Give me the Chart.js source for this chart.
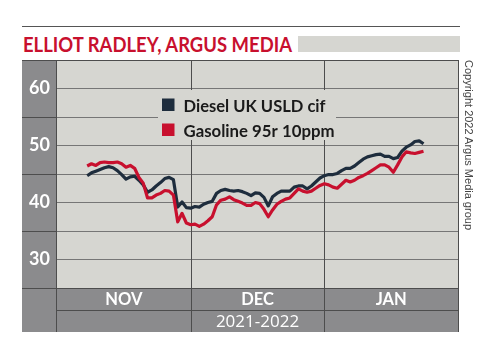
<!DOCTYPE html>
<html><head><meta charset="utf-8">
<script src="https://cdn.jsdelivr.net/npm/chart.js@4"></script>
<style>
html,body{margin:0;padding:0;background:#fff;}
#wrap{position:relative;width:480px;height:353px;overflow:hidden;}
canvas{position:absolute;left:0;top:0;}
#rule{position:absolute;left:22px;top:26px;width:438px;height:1px;background:#555;}
#title{position:absolute;left:23px;top:34px;font:bold 20px Lato;line-height:20px;color:#c8102e;white-space:nowrap;transform-origin:0 0;}
#bar{position:absolute;left:298px;top:36px;width:162px;height:16px;background:#d6d6d1;}
#copy{position:absolute;left:462px;top:60px;writing-mode:vertical-rl;font:11px "Liberation Sans";line-height:13px;color:#444;white-space:nowrap;}
</style></head>
<body><div id="wrap">
<div id="rule"></div>
<div id="title">ELLIOT RADLEY, ARGUS MEDIA</div>
<div id="bar"></div>
<canvas id="c" width="480" height="353"></canvas>
<div id="copy">Copyright 2022 Argus Media group</div>
</div>
<script>
// ---- data ----
const months = ['NOV', 'DEC', 'JAN'];
const monthEdges = [0, 31, 62, 93];          // day-of-period boundaries (1 = 1 Nov)
const periodLabel = '2021-2022';
const yLabels = [30, 40, 50, 60];
const seriesNames = ['Diesel UK USLD cif', 'Gasoline 95r 10ppm'];
const days = [7,8,9,10,11,12,13,14,15,16,17,18,19,20,21,22,23,24,25,26,27,28,29,30,31,32,33,34,35,36,37,38,39,40,41,42,43,44,45,46,47,48,49,50,51,52,53,54,55,56,57,58,59,60,61,62,63,64,65,66,67,68,69,70,71,72,73,74,75,76,77,78,79,80,81,82,83,84,85];
const diesel = [44.7,45.2,45.5,45.8,46.1,46.3,46.1,45.6,44.9,44.1,
  44.5,44.6,43.9,43.1,41.8,42.2,42.9,43.5,44.2,44.4,
  44.0,39.2,40.1,39.1,39.0,39.3,39.2,39.7,40.0,40.2,
  41.6,42.1,42.3,42.1,42.0,42.1,41.9,41.6,41.2,41.7,
  41.6,40.9,39.4,41.0,41.6,42.0,42.0,42.0,42.7,42.9,
  42.9,42.4,42.9,43.6,44.3,44.7,44.9,44.9,45.1,45.6,
  46.0,46.0,46.4,47.0,47.6,48.0,48.2,48.4,48.5,48.1,
  48.1,47.7,47.9,49.0,49.7,50.1,50.7,50.8,50.3];
const gasoline = [46.4,46.8,46.5,47.0,47.1,47.0,47.0,47.1,46.8,46.2,
  46.5,46.0,44.4,43.4,40.8,40.8,41.3,41.6,42.1,42.0,
  41.3,36.6,38.1,36.4,36.1,36.2,35.8,36.2,36.8,37.5,
  39.6,40.4,40.6,41.0,40.5,40.2,39.9,39.5,39.5,40.0,
  39.8,38.8,37.5,38.7,39.7,40.2,40.6,40.8,41.6,42.4,
  42.0,41.8,42.0,42.5,43.0,43.3,43.1,42.7,42.5,43.2,
  43.9,43.6,43.9,44.4,44.7,45.1,45.6,46.1,46.6,46.6,
  46.2,45.3,46.6,48.0,48.9,48.7,48.6,48.8,49.0];

// ---- style ----
const C_DIESEL = '#1e2d3d', C_GAS = '#c8102e';
const C_PLOT = '#d6d6d1', C_COL = '#8b8b8d', C_DARK = '#4d4d4d', C_GRID = '#767676';

// fit title width
(function(){
  const t = document.getElementById('title');
  const w = t.getBoundingClientRect().width;
  t.style.transform = 'scaleX(' + (269 / w) + ')';
})();

function fitText(ctx, text, x, y, target){
  const w = ctx.measureText(text).width;
  ctx.save(); ctx.translate(x, y); ctx.scale(target / w, 1); ctx.fillText(text, 0, 0); ctx.restore();
}

const framePlugin = {
  id: 'frame',
  beforeDraw(chart){
    const {ctx, chartArea: a, scales: {x, y}} = chart;
    ctx.save();
    ctx.fillStyle = C_COL;
    ctx.fillRect(y.left, a.top, a.left - y.left, x.bottom - a.top);
    ctx.fillRect(a.left, a.bottom, a.right - a.left, x.bottom - a.bottom);
    ctx.fillStyle = C_PLOT;
    ctx.fillRect(a.left, a.top, a.right - a.left, a.bottom - a.top);
    ctx.restore();
  },
  beforeDatasetsDraw(chart){
    const {ctx, chartArea: a, scales: {x, y}} = chart;
    const H = (yy, x0, x1) => { yy = Math.round(yy) + 0.5; ctx.beginPath(); ctx.moveTo(x0, yy); ctx.lineTo(x1, yy); ctx.stroke(); };
    const V = (xx, y0, y1) => { xx = Math.round(xx) + 0.5; ctx.beginPath(); ctx.moveTo(xx, y0); ctx.lineTo(xx, y1); ctx.stroke(); };
    ctx.save();
    ctx.strokeStyle = C_DARK; ctx.lineWidth = 1;
    for (let i = 0; i < yLabels.length - 1; i++) H(y.getPixelForValue((yLabels[i] + yLabels[i+1]) / 2), y.left, a.left);
    H(a.top, y.left, a.right + 1);
    H(a.bottom, y.left, a.right + 1);
    H(a.bottom + (x.bottom - a.bottom) / 2, a.left, a.right + 1);
    V(a.left - 1, a.top, x.bottom);
    V(a.right, a.top, x.bottom);
    for (let i = 1; i < monthEdges.length - 1; i++) V(x.getPixelForValue(monthEdges[i]), a.top, x.bottom);
    ctx.restore();
  },
  afterDatasetsDraw(chart){
    const {ctx} = chart;
    ctx.save();
    ctx.fillStyle = C_PLOT;
    ctx.fillRect(158, 90, 178, 50);
    const cols = [C_DIESEL, C_GAS];
    const widths = [142, 151];
    ctx.font = 'bold 17px Lato';
    ctx.textBaseline = 'alphabetic';
    for (let i = 0; i < seriesNames.length; i++) {
      const base = 111.5 + i * 25;
      ctx.fillStyle = cols[i];
      ctx.fillRect(162, base - 13, 12.5, 12.5);
      ctx.fillStyle = '#1a1a1a';
      fitText(ctx, seriesNames[i], 183.5, base, widths[i]);
    }
    ctx.restore();
  }
};

new Chart(document.getElementById('c'), {
  type: 'line',
  data: {
    datasets: [
      {label: seriesNames[0], data: days.map((d, i) => ({x: d, y: diesel[i]})), borderColor: C_DIESEL, order: 1},
      {label: seriesNames[1], data: days.map((d, i) => ({x: d, y: gasoline[i]})), borderColor: C_GAS, order: 0}
    ]
  },
  options: {
    responsive: false, animation: false, devicePixelRatio: 1,
    layout: {padding: {left: 22, right: 22, top: 60, bottom: 21}},
    plugins: {legend: {display: false}, tooltip: {enabled: false}},
    elements: {point: {radius: 0}, line: {borderWidth: 3.2, tension: 0, borderJoinStyle: 'round', fill: false}},
    scales: {
      x: {
        type: 'linear', min: monthEdges[0], max: monthEdges[monthEdges.length - 1], position: 'bottom',
        afterBuildTicks: s => { s.ticks = months.map((m, i) => ({value: (monthEdges[i] + monthEdges[i + 1]) / 2})); },
        afterFit: s => { s.height = 44; },
        grid: {display: false}, border: {display: false},
        ticks: {autoSkip: false, maxRotation: 0, minRotation: 0, color: '#fff', padding: -6,
          font: {family: 'Lato', weight: 'bold', size: 16.5}, callback: (v, i) => months[i]},
        title: {display: true, text: periodLabel, color: '#fff', padding: {top: 0, bottom: 0},
          font: {family: 'Open Sans', size: 17}}
      },
      y: {
        min: 25, max: 65,
        afterFit: s => { s.width = 35; },
        grid: {color: C_GRID, lineWidth: 1, drawTicks: false}, border: {display: false},
        ticks: {stepSize: 5, color: '#fff', padding: 7, crossAlign: 'center',
          font: {family: 'Lato', weight: 'bold', size: 18},
          callback: v => yLabels.includes(v) ? String(v) : ''}
      }
    }
  },
  plugins: [framePlugin]
});
</script>
</body></html>
